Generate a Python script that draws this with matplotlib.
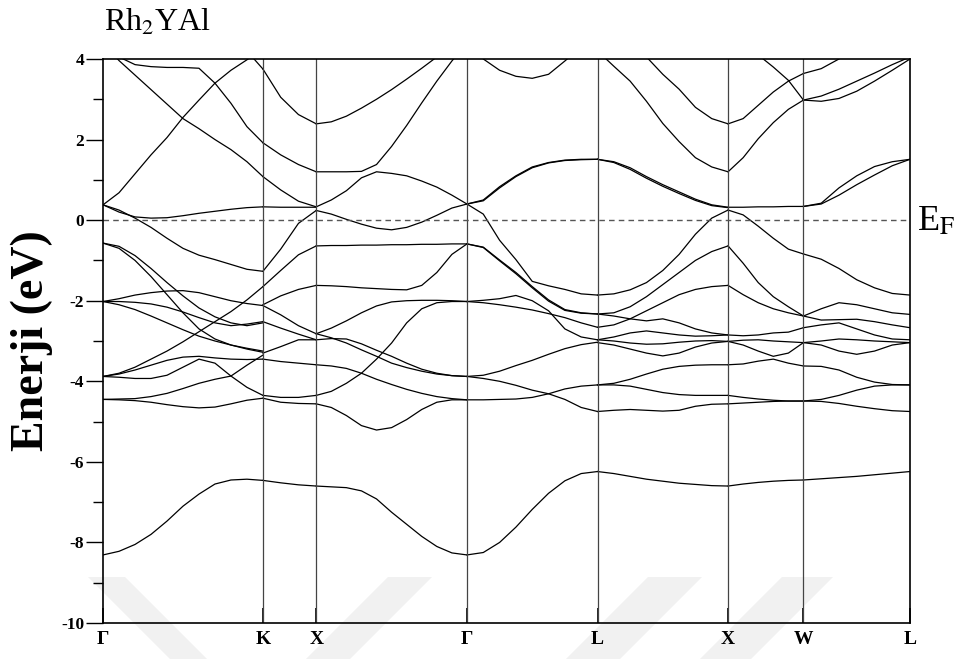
import numpy as np
import matplotlib.pyplot as plt
from matplotlib.patches import Polygon

plt.rcParams['font.family'] = ['Liberation Serif', 'DejaVu Serif']
plt.rcParams['mathtext.fontset'] = 'stix'

nan = np.nan

# high-symmetry points along the k-path
sym_labels = ["Γ", "K", "X", "Γ", "L", "X", "W", "L"]
sym_k = [0.0, 1.0607, 1.4142, 2.4142, 3.2802, 4.1463, 4.6463, 5.3534]

# sampling (fraction of each segment) for the band energies below
grid_gk = [0, .1, .2, .3, .4, .5, .6, .7, .8, .9, 1]
grid_kx = [0, 1/3, 2/3, 1]
grid_xg = [0, .1, .2, .3, .4, .5, .6, .7, .8, .9, 1]
grid_gl = [0, .125, .25, .375, .5, .625, .75, .875, 1]
grid_lx = [0, .125, .25, .375, .5, .625, .75, .875, 1]
grid_xw = [0, .2, .4, .6, .8, 1]
grid_wl = [0, 1/6, 2/6, 3/6, 4/6, 5/6, 1]

# band energies (eV), Gamma -> K
bands_gk = [
    [4.40, 4.05, 3.86, 3.81, 3.79, 3.79, 3.77, 3.40, 2.90, 2.32, 1.92],
    [0.38, 0.68, 1.15, 1.62, 2.05, 2.55, 2.98, 3.40, 3.72, 3.98, 4.25],
    [4.40, 3.96, 3.60, 3.24, 2.88, 2.52, 2.27, 2.00, 1.75, 1.45, 1.08],
    [nan, nan, nan, nan, nan, nan, nan, nan, nan, 4.20, 3.75],
    [0.38, 0.20, 0.08, 0.05, 0.06, 0.11, 0.17, 0.22, 0.27, 0.31, 0.33],
    [0.38, 0.25, 0.05, -0.18, -0.45, -0.70, -0.87, -0.98, -1.10, -1.22, -1.27],
    [-0.57, -0.70, -1.00, -1.40, -1.85, -2.30, -2.70, -2.95, -3.10, -3.20, -3.28],
    [-0.57, -0.65, -0.88, -1.20, -1.55, -1.88, -2.18, -2.40, -2.55, -2.62, -2.55],
    [-2.02, -1.95, -1.86, -1.80, -1.76, -1.75, -1.80, -1.90, -2.00, -2.07, -2.12],
    [-2.02, -2.02, -2.04, -2.08, -2.16, -2.28, -2.42, -2.55, -2.62, -2.58, -2.52],
    [-2.02, -2.10, -2.22, -2.38, -2.55, -2.72, -2.88, -3.00, -3.10, -3.18, -3.25],
    [-3.88, -3.80, -3.65, -3.45, -3.25, -3.02, -2.77, -2.52, -2.27, -1.98, -1.65],
    [-3.88, -3.82, -3.72, -3.60, -3.48, -3.40, -3.38, -3.42, -3.45, -3.46, -3.45],
    [-3.88, -3.90, -3.93, -3.93, -3.85, -3.65, -3.45, -3.55, -3.87, -4.15, -4.35],
    [-4.45, -4.46, -4.48, -4.52, -4.58, -4.63, -4.66, -4.64, -4.56, -4.47, -4.42],
    [-4.45, -4.44, -4.43, -4.38, -4.30, -4.18, -4.05, -3.95, -3.87, -3.60, -3.35],
    [-8.31, -8.22, -8.05, -7.80, -7.47, -7.10, -6.80, -6.55, -6.45, -6.43, -6.46],
]

# K -> X
bands_kx = [
    [1.92, 1.62, 1.38, 1.20],
    [1.08, 0.75, 0.47, 0.33],
    [3.75, 3.05, 2.62, 2.39],
    [0.33, 0.32, 0.32, 0.32],
    [-1.27, -0.72, -0.08, 0.24],
    [-1.65, -1.25, -0.86, -0.64],
    [-2.10, -1.88, -1.72, -1.62],
    [-2.12, -2.35, -2.62, -2.82],
    [-2.52, -2.68, -2.83, -2.97],
    [-3.30, -3.14, -2.97, -2.97],
    [-3.45, -3.51, -3.55, -3.59],
    [-4.35, -4.40, -4.40, -4.35],
    [-4.42, -4.52, -4.55, -4.56],
    [-6.46, -6.52, -6.57, -6.60],
]

# X -> Gamma
bands_xg = [
    [2.39, 2.44, 2.58, 2.78, 3.00, 3.24, 3.50, 3.77, 4.05, 4.30, 4.50],
    [1.20, 1.20, 1.20, 1.21, 1.38, 1.83, 2.35, 2.91, 3.45, 3.95, 4.40],
    [0.33, 0.50, 0.73, 1.05, 1.20, 1.16, 1.10, 0.97, 0.82, 0.62, 0.40],
    [0.24, 0.15, 0.02, -0.10, -0.20, -0.24, -0.18, -0.05, 0.12, 0.30, 0.40],
    [-0.64, -0.63, -0.63, -0.62, -0.62, -0.61, -0.61, -0.60, -0.60, -0.59, -0.59],
    [-1.62, -1.63, -1.65, -1.68, -1.70, -1.72, -1.73, -1.62, -1.30, -0.85, -0.59],
    [-2.82, -2.68, -2.50, -2.30, -2.13, -2.03, -2.00, -1.99, -1.99, -2.00, -2.02],
    [-2.82, -2.92, -3.05, -3.22, -3.38, -3.55, -3.66, -3.75, -3.82, -3.86, -3.88],
    [-2.97, -2.94, -2.95, -3.07, -3.23, -3.38, -3.55, -3.70, -3.80, -3.86, -3.88],
    [-3.59, -3.62, -3.68, -3.80, -3.95, -4.08, -4.20, -4.30, -4.38, -4.43, -4.46],
    [-4.35, -4.25, -4.05, -3.80, -3.45, -3.05, -2.55, -2.20, -2.05, -2.02, -2.02],
    [-4.56, -4.65, -4.85, -5.10, -5.21, -5.15, -4.95, -4.70, -4.52, -4.46, -4.46],
    [-6.60, -6.62, -6.64, -6.72, -6.92, -7.25, -7.55, -7.85, -8.10, -8.26, -8.31],
]

# Gamma -> L
bands_gl = [
    [4.40, 4.00, 3.72, 3.57, 3.52, 3.62, 3.95, 4.30, 4.60],
    [0.40, 0.50, 0.83, 1.10, 1.32, 1.43, 1.49, 1.51, 1.51],
    [0.40, 0.48, 0.80, 1.08, 1.30, 1.42, 1.48, 1.50, 1.51],
    [0.40, 0.15, -0.50, -0.98, -1.52, -1.63, -1.72, -1.83, -1.86],
    [-0.59, -0.67, -0.99, -1.30, -1.65, -1.98, -2.22, -2.30, -2.33],
    [-0.59, -0.68, -1.01, -1.33, -1.68, -2.01, -2.24, -2.31, -2.33],
    [-2.02, -1.99, -1.95, -1.87, -2.00, -2.25, -2.70, -2.90, -2.97],
    [-2.02, -2.05, -2.10, -2.16, -2.23, -2.32, -2.42, -2.55, -2.66],
    [-3.88, -3.85, -3.75, -3.61, -3.48, -3.33, -3.19, -3.09, -3.03],
    [-3.88, -3.93, -4.00, -4.10, -4.22, -4.31, -4.45, -4.65, -4.75],
    [-4.46, -4.46, -4.45, -4.44, -4.40, -4.31, -4.19, -4.12, -4.09],
    [-8.31, -8.25, -8.00, -7.62, -7.18, -6.78, -6.47, -6.29, -6.24],
]

# L -> X
bands_lx = [
    [4.20, 3.82, 3.45, 2.95, 2.40, 1.95, 1.55, 1.32, 1.20],
    [nan, nan, 4.60, 4.05, 3.62, 3.25, 2.80, 2.52, 2.39],
    [1.51, 1.45, 1.30, 1.08, 0.88, 0.70, 0.52, 0.38, 0.32],
    [1.51, 1.43, 1.26, 1.04, 0.84, 0.66, 0.49, 0.36, 0.31],
    [-1.86, -1.83, -1.73, -1.55, -1.25, -0.85, -0.35, 0.05, 0.25],
    [-2.33, -2.30, -2.15, -1.90, -1.60, -1.30, -1.00, -0.78, -0.64],
    [-2.66, -2.60, -2.45, -2.25, -2.05, -1.85, -1.72, -1.65, -1.62],
    [-2.33, -2.38, -2.45, -2.50, -2.45, -2.55, -2.70, -2.80, -2.85],
    [-2.97, -2.90, -2.80, -2.75, -2.80, -2.85, -2.88, -2.87, -2.85],
    [-3.04, -3.10, -3.20, -3.30, -3.37, -3.30, -3.15, -3.05, -3.01],
    [-2.97, -3.00, -3.05, -3.08, -3.07, -3.03, -3.00, -2.99, -3.01],
    [-4.09, -4.05, -3.95, -3.82, -3.70, -3.63, -3.60, -3.59, -3.59],
    [-4.09, -4.09, -4.12, -4.20, -4.28, -4.33, -4.35, -4.35, -4.35],
    [-4.75, -4.72, -4.70, -4.72, -4.74, -4.72, -4.62, -4.57, -4.56],
    [-6.24, -6.29, -6.36, -6.43, -6.48, -6.53, -6.56, -6.59, -6.60],
]

# X -> W
bands_xw = [
    [2.39, 2.52, 2.85, 3.18, 3.45, 3.64],
    [nan, 4.60, 4.10, 3.80, 3.47, 2.98],
    [1.20, 1.55, 2.02, 2.42, 2.75, 2.98],
    [0.32, 0.32, 0.33, 0.33, 0.34, 0.34],
    [0.25, 0.13, -0.15, -0.45, -0.72, -0.84],
    [-0.64, -1.07, -1.55, -1.90, -2.15, -2.38],
    [-1.62, -1.85, -2.05, -2.20, -2.30, -2.38],
    [-2.85, -2.87, -2.85, -2.80, -2.78, -2.67],
    [-3.01, -3.10, -3.25, -3.38, -3.30, -3.04],
    [-3.01, -2.98, -2.97, -3.00, -3.02, -3.04],
    [-3.59, -3.57, -3.50, -3.45, -3.55, -3.62],
    [-4.35, -4.40, -4.44, -4.47, -4.49, -4.49],
    [-4.56, -4.54, -4.52, -4.50, -4.49, -4.49],
    [-6.60, -6.55, -6.51, -6.48, -6.46, -6.45],
]

# W -> L
bands_wl = [
    [3.64, 3.76, 4.00, 4.30, nan, nan, nan],
    [2.98, 2.95, 3.02, 3.20, 3.45, 3.72, 4.00],
    [2.98, 3.08, 3.25, 3.45, 3.65, 3.86, 4.05],
    [0.34, 0.42, 0.80, 1.10, 1.33, 1.45, 1.51],
    [0.34, 0.40, 0.62, 0.88, 1.12, 1.35, 1.51],
    [-0.84, -0.97, -1.20, -1.48, -1.68, -1.82, -1.86],
    [-2.38, -2.48, -2.47, -2.46, -2.52, -2.60, -2.67],
    [-2.38, -2.20, -2.05, -2.10, -2.20, -2.30, -2.34],
    [-2.67, -2.60, -2.55, -2.70, -2.85, -2.95, -2.97],
    [-3.04, -3.00, -2.95, -2.97, -3.00, -3.02, -3.04],
    [-3.04, -3.10, -3.25, -3.33, -3.25, -3.10, -3.04],
    [-3.62, -3.63, -3.72, -3.90, -4.02, -4.08, -4.09],
    [-4.49, -4.45, -4.35, -4.22, -4.12, -4.09, -4.09],
    [-4.49, -4.50, -4.55, -4.62, -4.68, -4.73, -4.75],
    [-6.45, -6.42, -6.39, -6.36, -6.32, -6.28, -6.24],
]

segments = [
    (grid_gk, bands_gk), (grid_kx, bands_kx), (grid_xg, bands_xg),
    (grid_gl, bands_gl), (grid_lx, bands_lx), (grid_xw, bands_xw),
    (grid_wl, bands_wl),
]

W, H = 963, 659
fig = plt.figure(figsize=(W / 100, H / 100), dpi=100)
ax = fig.add_axes([0.107, 0.0546, 0.838, 0.8559])
ax.set_facecolor('none')

# faint slanted marks behind the bottom of the plot (pixel coords, y down)
marks = [
    [(88, 577), (125, 577), (207, 659), (170, 659)],
    [(388, 577), (432, 577), (350, 659), (306, 659)],
    [(648, 577), (702, 577), (620, 659), (566, 659)],
    [(782, 577), (833, 577), (751, 659), (700, 659)],
]
for m in marks:
    pts = [(x / W, 1 - y / H) for x, y in m]
    fig.add_artist(Polygon(pts, closed=True, transform=fig.transFigure,
                           facecolor='#f1f1f1', edgecolor='none', zorder=-1))

for i, (grid, bands) in enumerate(segments):
    k0, k1 = sym_k[i], sym_k[i + 1]
    k = k0 + np.array(grid) * (k1 - k0)
    for e in bands:
        ax.plot(k, e, color='black', lw=0.9)

# high-symmetry verticals and Fermi level
for k in sym_k[1:-1]:
    ax.axvline(k, color='#444444', lw=0.9)
ax.axhline(0, color='#555555', lw=1.0, ls=(0, (4, 3)))

ax.set_xlim(sym_k[0], sym_k[-1])
ax.set_ylim(-10, 4)
ax.set_xticks(sym_k)
ax.set_xticklabels(sym_labels, fontsize=14, fontweight='bold')
ax.set_yticks(range(-10, 5, 2))
ax.set_yticklabels([str(v) for v in range(-10, 5, 2)], fontsize=12.5, fontweight='bold')
ax.set_yticks(range(-9, 4, 2), minor=True)
ax.tick_params(axis='y', which='major', direction='out', length=12, width=1, pad=1.5)
ax.tick_params(axis='y', which='minor', direction='out', length=7, width=1)
ax.tick_params(axis='x', direction='in', length=11, width=1.2, pad=6)
for s in ax.spines.values():
    s.set_linewidth(1.2)

ax.set_ylabel("Enerji (eV)", fontsize=33, fontweight='bold', labelpad=6)
fig.text(0.108, 0.953, r"Rh$_2$YAl", fontsize=23, ha='left', va='baseline')
fig.text(0.952, 0.663, r"E$_\mathrm{F}$", fontsize=26, ha='left', va='center')

fig.savefig("out.png", dpi=100)
